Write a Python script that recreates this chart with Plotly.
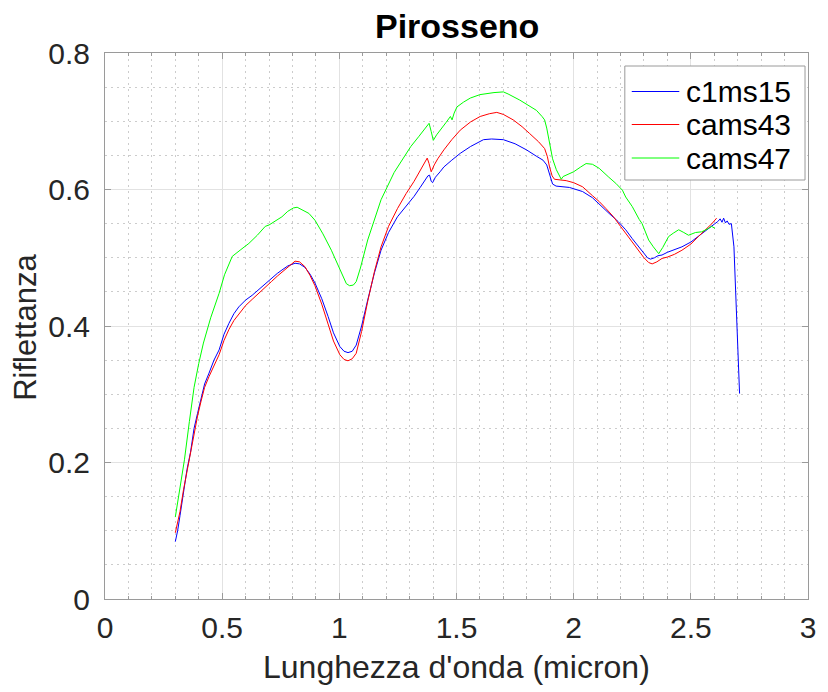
import plotly.graph_objects as go

# Reflectance spectra of pyroxene samples (wavelength in micron)
wl_c1ms15 = [0.300, 0.310, 0.320, 0.335, 0.350, 0.365, 0.380, 0.395, 0.410, 0.425,
             0.444, 0.465, 0.487, 0.508, 0.529, 0.550, 0.571, 0.600, 0.628, 0.655,
             0.684, 0.710, 0.735, 0.755, 0.780, 0.811, 0.830, 0.853, 0.875, 0.896,
             0.925, 0.952, 0.975, 1.002, 1.020, 1.037, 1.055, 1.072, 1.095, 1.121,
             1.150, 1.178, 1.210, 1.248, 1.285, 1.319, 1.345, 1.368, 1.378, 1.385,
             1.392, 1.398, 1.410, 1.430, 1.446, 1.480, 1.516, 1.560, 1.615, 1.650,
             1.700, 1.750, 1.799, 1.840, 1.869, 1.885, 1.897, 1.910, 1.925, 1.950,
             1.982, 2.010, 2.038, 2.080, 2.110, 2.151, 2.190, 2.222, 2.250, 2.278,
             2.300, 2.315, 2.328, 2.345, 2.360, 2.377, 2.400, 2.430, 2.462, 2.500,
             2.530, 2.546, 2.575, 2.603, 2.615, 2.625, 2.633, 2.640, 2.648, 2.655,
             2.663, 2.673, 2.684, 2.695, 2.708]
r_c1ms15 = [0.084, 0.100, 0.122, 0.160, 0.190, 0.215, 0.250, 0.272, 0.295, 0.315,
            0.331, 0.350, 0.365, 0.388, 0.404, 0.418, 0.428, 0.438, 0.445, 0.453,
            0.463, 0.470, 0.477, 0.482, 0.488, 0.492, 0.491, 0.486, 0.476, 0.463,
            0.440, 0.414, 0.390, 0.370, 0.363, 0.361, 0.363, 0.372, 0.400, 0.438,
            0.478, 0.511, 0.537, 0.560, 0.576, 0.590, 0.603, 0.615, 0.620, 0.621,
            0.612, 0.610, 0.618, 0.626, 0.633, 0.643, 0.653, 0.663, 0.673, 0.674,
            0.673, 0.667, 0.658, 0.649, 0.643, 0.636, 0.624, 0.608, 0.605, 0.604,
            0.603, 0.600, 0.597, 0.588, 0.578, 0.565, 0.553, 0.541, 0.528, 0.516,
            0.506, 0.500, 0.498, 0.500, 0.503, 0.504, 0.508, 0.512, 0.516, 0.523,
            0.531, 0.536, 0.543, 0.550, 0.553, 0.557, 0.552, 0.558, 0.551, 0.554,
            0.549, 0.550, 0.516, 0.420, 0.301]

wl_cams43 = [0.300, 0.310, 0.320, 0.335, 0.350, 0.365, 0.380, 0.395, 0.410, 0.425,
             0.444, 0.465, 0.487, 0.508, 0.529, 0.550, 0.571, 0.600, 0.628, 0.655,
             0.684, 0.710, 0.735, 0.755, 0.780, 0.811, 0.830, 0.853, 0.875, 0.896,
             0.925, 0.952, 0.975, 1.002, 1.020, 1.037, 1.055, 1.072, 1.095, 1.121,
             1.150, 1.178, 1.210, 1.248, 1.285, 1.319, 1.345, 1.365, 1.375, 1.383,
             1.392, 1.405, 1.420, 1.446, 1.480, 1.516, 1.560, 1.601, 1.640, 1.672,
             1.700, 1.742, 1.780, 1.812, 1.850, 1.876, 1.888, 1.897, 1.908, 1.918,
             1.940, 1.968, 2.000, 2.038, 2.080, 2.110, 2.138, 2.170, 2.200, 2.230,
             2.260, 2.285, 2.300, 2.320, 2.335, 2.355, 2.377, 2.400, 2.430, 2.462,
             2.500, 2.532, 2.560, 2.590, 2.610]
r_cams43 = [0.097, 0.112, 0.128, 0.160, 0.188, 0.212, 0.245, 0.268, 0.290, 0.310,
            0.326, 0.343, 0.358, 0.379, 0.395, 0.408, 0.418, 0.430, 0.439, 0.448,
            0.457, 0.465, 0.473, 0.479, 0.487, 0.495, 0.494, 0.487, 0.474, 0.459,
            0.432, 0.403, 0.378, 0.358, 0.351, 0.349, 0.352, 0.360, 0.392, 0.436,
            0.480, 0.516, 0.546, 0.572, 0.594, 0.612, 0.628, 0.640, 0.646, 0.638,
            0.626, 0.636, 0.645, 0.658, 0.673, 0.687, 0.699, 0.707, 0.711, 0.713,
            0.710, 0.702, 0.692, 0.682, 0.670, 0.660, 0.648, 0.633, 0.620, 0.615,
            0.614, 0.613, 0.610, 0.604, 0.591, 0.582, 0.572, 0.560, 0.546, 0.532,
            0.518, 0.508, 0.500, 0.493, 0.491, 0.494, 0.499, 0.501, 0.505, 0.511,
            0.520, 0.531, 0.540, 0.550, 0.558]

wl_cams47 = [0.300, 0.320, 0.339, 0.360, 0.380, 0.400, 0.420, 0.451, 0.487, 0.510,
             0.543, 0.580, 0.614, 0.650, 0.684, 0.700, 0.720, 0.755, 0.780, 0.804,
             0.820, 0.839, 0.870, 0.896, 0.930, 0.966, 1.009, 1.030, 1.044, 1.060,
             1.072, 1.090, 1.121, 1.150, 1.178, 1.234, 1.270, 1.305, 1.340, 1.375,
             1.383, 1.392, 1.401, 1.415, 1.432, 1.455, 1.474, 1.481, 1.490, 1.502,
             1.530, 1.559, 1.600, 1.629, 1.660, 1.700, 1.720, 1.770, 1.800, 1.841,
             1.865, 1.876, 1.885, 1.897, 1.910, 1.926, 1.940, 1.947, 1.955, 1.968,
             2.000, 2.030, 2.053, 2.080, 2.109, 2.150, 2.180, 2.208, 2.222, 2.250,
             2.264, 2.280, 2.292, 2.310, 2.320, 2.340, 2.363, 2.380, 2.405, 2.425,
             2.448, 2.470, 2.490, 2.520, 2.546, 2.570, 2.589, 2.603]
r_cams47 = [0.120, 0.160, 0.204, 0.260, 0.310, 0.345, 0.375, 0.412, 0.448, 0.475,
            0.502, 0.512, 0.521, 0.533, 0.546, 0.548, 0.552, 0.560, 0.568, 0.573,
            0.574, 0.571, 0.565, 0.555, 0.535, 0.511, 0.477, 0.462, 0.459, 0.460,
            0.465, 0.485, 0.526, 0.557, 0.585, 0.625, 0.645, 0.663, 0.678, 0.694,
            0.697, 0.685, 0.672, 0.680, 0.687, 0.698, 0.707, 0.702, 0.712, 0.721,
            0.728, 0.734, 0.739, 0.741, 0.742, 0.743, 0.740, 0.731, 0.725, 0.716,
            0.707, 0.702, 0.690, 0.668, 0.645, 0.629, 0.620, 0.615, 0.619, 0.621,
            0.626, 0.633, 0.638, 0.637, 0.631, 0.618, 0.609, 0.599, 0.589, 0.575,
            0.565, 0.556, 0.550, 0.535, 0.526, 0.516, 0.506, 0.515, 0.531, 0.536,
            0.541, 0.537, 0.533, 0.537, 0.538, 0.542, 0.546, 0.543]

series_names = ["c1ms15", "cams43", "cams47"]
series_colors = ["rgb(0,0,255)", "rgb(255,0,0)", "rgb(0,255,0)"]
x_ticks = [0, 0.5, 1, 1.5, 2, 2.5, 3]
y_ticks = [0, 0.2, 0.4, 0.6, 0.8]

FONT = "Liberation Sans, Arial, Helvetica, sans-serif"
W, H = 828, 692
L, R, T, B = 105, 815, 53, 599  # plot area in pixels


def px_x(p):
    return (p - L) / (R - L)


def px_y(p):
    return (B - p) / (B - T)


fig = go.Figure()
for wl, refl, name, col in zip([wl_c1ms15, wl_cams43, wl_cams47],
                               [r_c1ms15, r_cams43, r_cams47],
                               series_names, series_colors):
    fig.add_trace(go.Scatter(x=wl, y=refl, mode="lines", name=name,
                             line=dict(color=col, width=1), showlegend=False))

axis_common = dict(
    showline=True, linecolor="#9a9a9a", linewidth=1, mirror="ticks",
    ticks="inside", ticklen=6, tickcolor="#9a9a9a", tickwidth=1,
    showgrid=True, gridcolor="#e2e2e2", gridwidth=1, zeroline=False,
    tickfont=dict(family=FONT, size=30, color="#262626"),
)

fig.update_xaxes(range=[0, 3], tickvals=x_ticks,
                 ticktext=[f"{v:g}" for v in x_ticks], ticklabelstandoff=2,
                 minor=dict(dtick=0.1, showgrid=True, griddash="2px,4px",
                            gridcolor="#cccccc", ticks="inside", ticklen=3,
                            tickcolor="#9a9a9a"),
                 **axis_common)
fig.update_yaxes(range=[0, 0.8], tickvals=y_ticks,
                 ticktext=[f"{v:g}" for v in y_ticks], ticklabelstandoff=8,
                 minor=dict(dtick=0.05, showgrid=True, griddash="2px,4px",
                            gridcolor="#cccccc", ticks=""),
                 **axis_common)

annotations = [
    dict(text="<b>Pirosseno</b>", x=0.5, y=px_y(26), xref="paper", yref="paper",
         showarrow=False, xanchor="center", yanchor="middle",
         font=dict(family=FONT, size=34, color="black")),
    dict(text="Lunghezza d'onda (micron)", x=0.5, y=px_y(667), xref="paper",
         yref="paper", showarrow=False, xanchor="center", yanchor="middle",
         font=dict(family=FONT, size=32, color="#262626")),
    dict(text="Riflettanza", x=px_x(24), y=px_y(327), xref="paper", yref="paper",
         showarrow=False, xanchor="center", yanchor="middle", textangle=-90,
         font=dict(family=FONT, size=31, color="#262626")),
]

# legend box with line samples
shapes = [dict(type="rect", xref="paper", yref="paper",
               x0=px_x(630), x1=px_x(812), y0=px_y(180), y1=px_y(66),
               line=dict(color="#9a9a9a", width=1), fillcolor="white", layer="above")]
row_y = [91.5, 124.5, 158]
for name, col, ry in zip(series_names, series_colors, row_y):
    shapes.append(dict(type="line", xref="paper", yref="paper",
                       x0=px_x(637), x1=px_x(685), y0=px_y(ry), y1=px_y(ry),
                       line=dict(color=col, width=1), layer="above"))
    annotations.append(dict(text=name, x=px_x(690), y=px_y(ry), xref="paper",
                            yref="paper", showarrow=False, xanchor="left",
                            yanchor="middle",
                            font=dict(family=FONT, size=30, color="black")))

fig.update_layout(
    width=W, height=H, autosize=False,
    margin=dict(l=L, r=W - R, t=T, b=H - B, pad=0),
    paper_bgcolor="white", plot_bgcolor="white",
    annotations=annotations, shapes=shapes, showlegend=False,
)

fig.write_html("out.html")
